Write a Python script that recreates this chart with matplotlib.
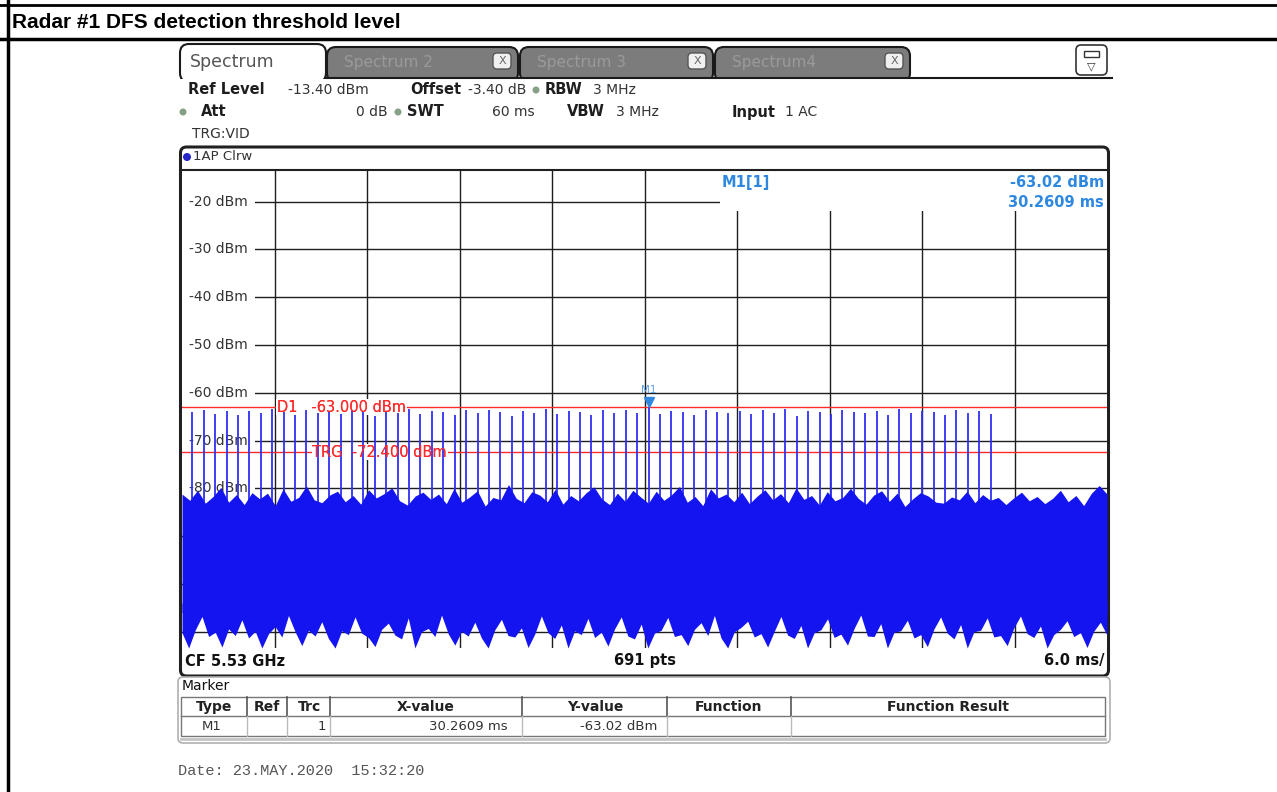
import numpy as np
import matplotlib.pyplot as plt
from matplotlib.patches import FancyBboxPatch, Rectangle, Circle

# analyzer settings
ref_level = -13.4
span_ms = 60.0
y_labels = [-20, -30, -40, -50, -60, -70, -80]
d1_level = -63.0
trg_level = -72.4
m1_time = 30.2609
m1_level = -63.02

# pulse positions (ms) and peak levels (dBm)
pulse_t = [0.67, 1.41, 2.15, 2.89, 3.63, 4.37, 5.11, 5.85, 6.59, 7.33,
           8.07, 8.81, 9.55, 10.29, 11.03, 11.77, 12.51, 13.25, 13.99, 14.73,
           15.47, 16.21, 16.95, 17.69, 18.43, 19.17, 19.91, 20.65, 21.38, 22.12,
           22.86, 23.60, 24.34, 25.08, 25.82, 26.56, 27.30, 28.04, 28.78, 29.52,
           30.26, 31.00, 31.74, 32.48, 33.22, 33.96, 34.70, 35.44, 36.18, 36.92,
           37.66, 38.40, 39.14, 39.88, 40.62, 41.36, 42.10, 42.84, 43.58, 44.31,
           45.05, 45.79, 46.53, 47.27, 48.01, 48.75, 49.49, 50.23, 50.97, 51.71,
           52.45]
pulse_peak = [-64.1, -63.6, -64.4, -63.9, -64.6, -63.8, -64.2, -63.5, -64.0, -64.7,
              -63.7, -64.3, -63.9, -64.5, -63.6, -64.1, -64.8, -63.8, -64.2, -63.5,
              -64.4, -63.9, -64.0, -64.6, -63.7, -64.3, -63.6, -64.1, -64.9, -63.8,
              -64.2, -63.5, -64.5, -63.9, -64.0, -64.7, -63.7, -64.3, -63.6, -64.2,
              -63.02, -64.4, -63.8, -64.1, -64.6, -63.6, -64.0, -64.3, -63.9, -64.5,
              -63.7, -64.2, -63.5, -64.8, -63.9, -64.1, -64.4, -63.6, -64.0, -64.3,
              -63.8, -64.6, -63.5, -64.2, -63.9, -64.1, -64.7, -63.7, -64.3, -63.9,
              -64.4]

# noise floor: upper and lower edge of the trace (dBm), evenly over the sweep
noise_top = [-81.2, -82.5, -80.4, -83.1, -81.7, -79.8, -82.9, -81.3, -83.4, -80.9,
             -82.2, -81.0, -83.6, -80.1, -82.7, -81.9, -79.5, -82.4, -83.0, -81.4,
             -80.6, -82.8, -81.5, -83.3, -80.3, -82.0, -81.1, -79.9, -82.6, -83.5,
             -81.6, -80.8, -82.3, -81.2, -83.2, -80.0, -82.9, -81.8, -80.5, -83.7,
             -81.9, -82.4, -79.2, -82.1, -83.0, -80.7, -81.4, -82.8, -80.2, -83.3,
             -81.5, -82.6, -80.9, -79.7, -82.2, -83.4, -81.0, -82.7, -80.4, -81.8,
             -83.1, -80.6, -82.5, -81.3, -79.6, -82.9, -81.7, -83.6, -80.1, -82.0,
             -81.2, -82.8, -80.8, -83.2, -81.6, -80.3, -82.4, -81.1, -83.0, -79.9,
             -82.3, -81.5, -83.5, -80.7, -82.6, -81.9, -80.0, -82.1, -83.3, -81.4,
             -80.5, -82.7, -81.0, -83.8, -82.2, -80.9, -81.6, -82.9, -83.1, -81.8,
             -82.4, -80.6, -83.0, -81.3, -82.5, -81.9, -83.4, -82.0, -80.8, -82.6,
             -81.7, -83.2, -82.1, -80.4, -82.8, -81.5, -83.6, -81.0, -79.4, -81.2]
noise_bot = [-110.2, -113.4, -109.6, -106.8, -111.0, -110.1, -113.2, -109.4, -110.8, -107.5,
             -111.3, -109.9, -113.4, -110.4, -108.9, -111.1, -106.6, -110.0, -112.9, -109.7,
             -110.9, -107.9, -111.4, -113.4, -109.8, -110.6, -106.9, -110.3, -111.2, -113.1,
             -109.5, -108.2, -110.7, -111.5, -107.1, -113.4, -110.0, -109.3, -111.0, -106.5,
             -110.4, -112.8, -109.9, -110.9, -108.0, -111.3, -113.4, -109.6, -107.4, -110.8,
             -111.1, -109.2, -113.3, -110.5, -106.7, -110.2, -111.4, -108.6, -113.4, -109.8,
             -110.6, -107.2, -111.2, -110.1, -113.0, -109.4, -106.9, -110.9, -111.5, -108.4,
             -113.4, -110.3, -109.7, -107.0, -111.0, -110.6, -112.9, -109.5, -108.1, -110.8,
             -106.6, -111.3, -113.4, -110.0, -109.1, -107.8, -111.1, -110.4, -113.2, -109.9,
             -106.8, -110.7, -111.4, -108.7, -113.4, -110.2, -109.6, -107.3, -111.2, -110.5,
             -112.8, -109.3, -106.5, -110.9, -111.0, -108.3, -113.4, -110.1, -109.8, -107.6,
             -111.3, -110.6, -113.1, -109.4, -106.9, -110.3, -111.5, -108.5, -113.4, -110.0,
             -109.7, -107.1, -111.1, -110.8, -112.9, -109.2, -106.7, -110.4, -111.2, -108.8,
             -113.4, -110.6, -109.5, -107.7, -111.0, -110.2, -113.3, -109.9, -108.0, -110.7]

W, H = 1277, 792
fig = plt.figure(figsize=(W / 100, H / 100), dpi=100)

# page / screenshot decoration, drawn in pixel coords
bg = fig.add_axes([0, 0, 1, 1])
bg.set_xlim(0, W)
bg.set_ylim(H, 0)
bg.axis('off')

bg.plot([0, W], [4.5, 4.5], color='k', lw=2)
bg.plot([0, W], [39, 39], color='k', lw=2.5)
bg.plot([7.5, 7.5], [0, H], color='k', lw=2.5)
bg.text(12, 22, 'Radar #1 DFS detection threshold level', fontsize=15,
        fontweight='bold', family='Liberation Sans', va='center')

# tabs
for x0, x1, name in [(327, 518, 'Spectrum 2'), (520, 713, 'Spectrum 3'), (715, 910, 'Spectrum4')]:
    bg.add_patch(FancyBboxPatch((x0, 47), x1 - x0, 35, boxstyle='round,pad=0,rounding_size=9',
                                fc='#7c7c7c', ec='#1a1a1a', lw=1.5, zorder=1))
    bg.text(x0 + 17, 62, name, fontsize=11, color='#9a9a9a', va='center', zorder=4)
    bg.add_patch(FancyBboxPatch((x1 - 25, 53), 18, 16, boxstyle='round,pad=0,rounding_size=4',
                                fc='#f0f0f0', ec='#555555', lw=1, zorder=4))
    bg.text(x1 - 16, 61, 'X', fontsize=8, color='#666666', ha='center', va='center', zorder=5)
bg.add_patch(FancyBboxPatch((180, 44), 146, 38, boxstyle='round,pad=0,rounding_size=9',
                            fc='white', ec='#1a1a1a', lw=1.5, zorder=1))
bg.add_patch(Rectangle((176, 78.8), 760, 5, fc='white', ec='none', zorder=2))
bg.plot([326, 1112], [78, 78], color='#1a1a1a', lw=1.5, zorder=3)
bg.text(190, 62, 'Spectrum', fontsize=12.5, color='#555555', va='center', zorder=4)
bg.add_patch(FancyBboxPatch((1076, 45), 31, 30, boxstyle='round,pad=0,rounding_size=5',
                            fc='white', ec='#333333', lw=1.2, zorder=3))
bg.add_patch(Rectangle((1084, 51), 15, 6, fc='white', ec='#333333', lw=1, zorder=4))
bg.text(1091.5, 66, '▽', fontsize=8, ha='center', va='center', color='#333333', zorder=4)

# settings header
hdr = [(188, 90, 'Ref Level', 'bold', 'left'), (288, 90, '-13.40 dBm', 'normal', 'left'),
       (410, 90, 'Offset', 'bold', 'left'), (468, 90, '-3.40 dB', 'normal', 'left'),
       (545, 90, 'RBW', 'bold', 'left'), (593, 90, '3 MHz', 'normal', 'left'),
       (201, 112, 'Att', 'bold', 'left'), (388, 112, '0 dB', 'normal', 'right'),
       (407, 112, 'SWT', 'bold', 'left'), (535, 112, '60 ms', 'normal', 'right'),
       (567, 112, 'VBW', 'bold', 'left'), (616, 112, '3 MHz', 'normal', 'left'),
       (732, 112, 'Input', 'bold', 'left'), (785, 112, '1 AC', 'normal', 'left'),
       (192, 134, 'TRG:VID', 'normal', 'left')]
for x, y, s, w, ha in hdr:
    bg.text(x, y, s, fontsize=10.5 if w == 'bold' else 10, fontweight=w, ha=ha, va='center',
            color='#1e1e1e' if w == 'bold' else '#333333', zorder=5)
for x, y in [(536, 90), (183, 112), (398, 112)]:
    bg.add_patch(Circle((x, y), 3.5, fc='#86a086', ec='none', zorder=5))

# diagram frame
bg.add_patch(FancyBboxPatch((180.5, 147), 928, 529, boxstyle='round,pad=0,rounding_size=6',
                            fc='white', ec='#202020', lw=2.2))
bg.add_patch(Circle((187, 157), 4, fc='#2626c8', ec='none'))
bg.text(193, 157, '1AP Clrw', fontsize=9.5, color='#333333', va='center')
bg.text(185, 661, 'CF 5.53 GHz', fontsize=10.5, fontweight='bold', va='center', color='#111111')
bg.text(645, 661, '691 pts', fontsize=10.5, fontweight='bold', ha='center', va='center', color='#111111')
bg.text(1104, 661, '6.0 ms/', fontsize=10.5, fontweight='bold', ha='right', va='center', color='#111111')

# marker table
bg.add_patch(FancyBboxPatch((178, 677), 932, 66, boxstyle='round,pad=0,rounding_size=5',
                            fc='white', ec='#b0b0b0', lw=1.2))
bg.text(182, 686, 'Marker', fontsize=10, va='center', color='#111111')
bg.add_patch(Rectangle((181, 697), 924, 39, fc='white', ec='#777777', lw=1))
bg.plot([181, 1105], [716, 716], color='#777777', lw=1)
bg.plot([181, 1105], [739, 739], color='#c4c4c4', lw=2)
for x in [247, 287, 330, 522, 667, 791]:
    bg.plot([x, x], [697, 716], color='#555555', lw=1.2)
    bg.plot([x, x], [716, 736], color='#bbbbbb', lw=1)
cols = [(214, 'Type'), (267, 'Ref'), (309, 'Trc'), (426, 'X-value'), (595, 'Y-value'),
        (729, 'Function'), (948, 'Function Result')]
for x, s in cols:
    bg.text(x, 707, s, fontsize=10, fontweight='bold', ha='center', va='center', color='#222222')
bg.text(222, 726, 'M1', fontsize=9.5, ha='right', va='center', color='#333333')
bg.text(326, 726, '1', fontsize=9.5, ha='right', va='center', color='#333333')
bg.text(508, 726, '30.2609 ms', fontsize=9.5, ha='right', va='center', color='#333333')
bg.text(657, 726, '-63.02 dBm', fontsize=9.5, ha='right', va='center', color='#333333')

bg.text(178, 771, 'Date: 23.MAY.2020  15:32:20', fontsize=11, family='Liberation Mono',
        va='center', color='#555555')

# the trace diagram itself
ax = fig.add_axes([182 / W, 1 - 648 / H, 925 / W, 478 / H])
ax.set_xlim(0, span_ms)
ax.set_ylim(ref_level - 100, ref_level)
ax.set_xticks(np.arange(6, span_ms, 6))
ax.set_yticks(np.arange(-110, -19, 10))
ax.tick_params(length=0, labelbottom=False, labelleft=False)
ax.set_axisbelow(True)
ax.grid(True, color='#1e1e1e', lw=1)
for side in ['left', 'right', 'bottom']:
    ax.spines[side].set_visible(False)
ax.spines['top'].set_color('#202020')
ax.spines['top'].set_linewidth(1.5)

# blank area under the marker readout
ax.add_patch(Rectangle((34.9, -21.9), span_ms - 34.9, 8.5, fc='white', ec='none', zorder=1))

for v in y_labels:
    ax.text(0.45, v, f'{v} dBm', fontsize=10, color='#333333', va='center', ha='left',
            bbox=dict(fc='white', ec='none', pad=5), zorder=1.5)

red = '#ff2b2b'
ax.axhline(d1_level, color=red, lw=1, zorder=2)
ax.axhline(trg_level, color=red, lw=1, zorder=2)
lines_lbl = [(6.15, d1_level, 'D1   -63.000 dBm'), (8.45, trg_level, 'TRG  -72.400 dBm')]
for x, y, s in lines_lbl:
    ax.text(x, y, s, fontsize=10.5, color=red, va='center', bbox=dict(fc='white', ec='none', pad=0.5),
            zorder=2.5)

blue = '#1414f0'
ax.vlines(pulse_t, -100, pulse_peak, color='#3030f5', lw=1.3, zorder=3)
xt = np.linspace(0, span_ms, len(noise_top))
xb = np.linspace(0, span_ms, len(noise_bot))
ax.fill_between(xt, -106, noise_top, color=blue, lw=0, zorder=3)
ax.fill_between(xb, noise_bot, -104, color=blue, lw=0, zorder=3)

for x, y, s in lines_lbl:
    ax.text(x, y, s, fontsize=10.5, color=red, va='center', zorder=4)

# marker M1
mc = '#2f88e0'
ax.plot(m1_time, m1_level + 1.1, marker='v', ms=7, color=mc, zorder=5)
ax.text(m1_time, -59.4, 'M1', fontsize=7.5, ha='center', va='center', color='#5aa0e8', zorder=5)
ax.text(35.03, -16.1, 'M1[1]', fontsize=10.5, fontweight='bold', color=mc, va='center', zorder=5)
ax.text(59.8, -16.1, f'{m1_level:.2f} dBm', fontsize=10.5, fontweight='bold', color=mc,
        ha='right', va='center', zorder=5)
ax.text(59.8, -20.3, f'{m1_time:.4f} ms', fontsize=10.5, fontweight='bold', color=mc,
        ha='right', va='center', zorder=5)

fig.savefig('out.png', dpi=100)
